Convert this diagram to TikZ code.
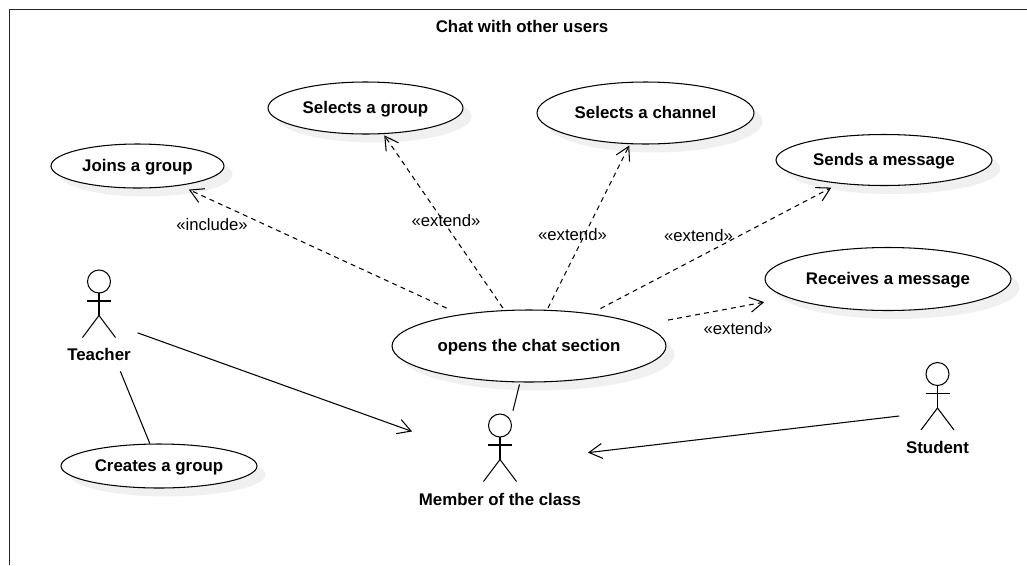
\documentclass[tikz,border=0pt]{standalone}
\usepackage{fontspec}
\setmainfont{Liberation Sans}
\usetikzlibrary{arrows.meta, shapes.geometric, shadows}

\tikzset{
    usecase/.style 2 args={ellipse, draw=black, line width=0.6pt, fill=white, inner sep=0pt,
        minimum width=#1, minimum height=#2, text height=7.6pt, text depth=0.8pt,
        font=\fontsize{9.6}{11}\bfseries\selectfont,
        drop shadow={shadow xshift=0.17cm, shadow yshift=-0.17cm, fill=black!6, opacity=1}},
    actorbox/.style={rectangle, inner xsep=0.13cm, inner ysep=0pt, text height=1.88cm,
        text depth=0.2cm, font=\fontsize{9.6}{11}\bfseries\selectfont},
    stereotype/.style={inner sep=0pt, font=\fontsize{9.5}{11}\selectfont},
    assoc/.style={line width=0.6pt},
    navassoc/.style={assoc, -{Straight Barb[length=7.5pt,width=8.5pt]}},
    dep/.style={line width=0.6pt, dash pattern=on 2.8pt off 2.4pt,
        -{Straight Barb[length=7.5pt,width=8.5pt]}},
    stickman/.pic={
        \draw[line width=0.6pt] (0,-37.5) circle (11.5);
        \draw[line width=0.6pt] (0,-26) -- (0,-3.5);
        \draw[line width=0.6pt] (-12,-18) -- (12,-18);
        \draw[line width=0.6pt] (-16.5,18.5) -- (0,-3.5) -- (16.5,18.5);
    }
}

\begin{document}
\begin{tikzpicture}[x=0.02cm, y=-0.02cm]
    \useasboundingbox (0,0) rectangle (1027,565);

    % Frame
    \draw[black!85, line width=1pt] (9.5,565) -- (9.5,9.5) -- (1027,9.5);
    \node[inner sep=0pt, font=\fontsize{9.6}{11}\bfseries\selectfont] (title) at (522,26.5) {Chat with other users};

    % Use cases
    \node[usecase={3.46cm}{0.88cm}] (joins) at (137.5,166) {Joins a group};
    \node[usecase={3.9cm}{1.04cm}] (selgroup) at (365.5,108) {Selects a group};
    \node[usecase={4.34cm}{1.24cm}] (selchannel) at (645.5,113) {Selects a channel};
    \node[usecase={4.32cm}{1.02cm}] (sends) at (884,160) {Sends a message};
    \node[usecase={4.92cm}{1.26cm}] (receives) at (888,279) {Receives a message};
    \node[usecase={5.48cm}{1.44cm}] (chat) at (529,346) {opens the chat section};
    \node[usecase={3.92cm}{0.88cm}] (creates) at (159,466) {Creates a group};

    % Actors
    \node[actorbox] (teacher) at (99,319) {Teacher};
    \node[actorbox] (member) at (500,463) {Member of the class};
    \node[actorbox] (student) at (937.5,411.5) {Student};
    \pic at (teacher) {stickman};
    \pic at (member) {stickman};
    \pic at (student) {stickman};

    % Dependencies
    \draw[dep, shorten <=0.3cm, shorten >=0.19cm] (chat) -- (joins);
    \draw[dep, shorten <=0.05cm, shorten >=0.03cm] (chat) -- (selgroup);
    \draw[dep, shorten <=0.04cm, shorten >=0.03cm] (chat) -- (selchannel);
    \draw[dep, shorten <=0.21cm, shorten >=0.17cm] (chat) -- (sends);
    \draw[dep, shorten <=0.54cm, shorten >=0.48cm] (chat) -- (receives);

    \node[stereotype] (includelabel) at (212,224.5) {«include»};
    \node[stereotype] (extendgroup) at (446,220.5) {«extend»};
    \node[stereotype] (extendchannel) at (572.5,234.5) {«extend»};
    \node[stereotype] (extendsends) at (698.5,235.5) {«extend»};
    \node[stereotype] (extendreceives) at (738,329) {«extend»};

    % Associations
    \draw[navassoc] (teacher) -- (member);
    \draw[navassoc] (student) -- (member);
    \draw[assoc] (teacher) -- (creates);
    \draw[assoc, shorten <=0.04cm] (chat) -- (member);
\end{tikzpicture}
\end{document}
